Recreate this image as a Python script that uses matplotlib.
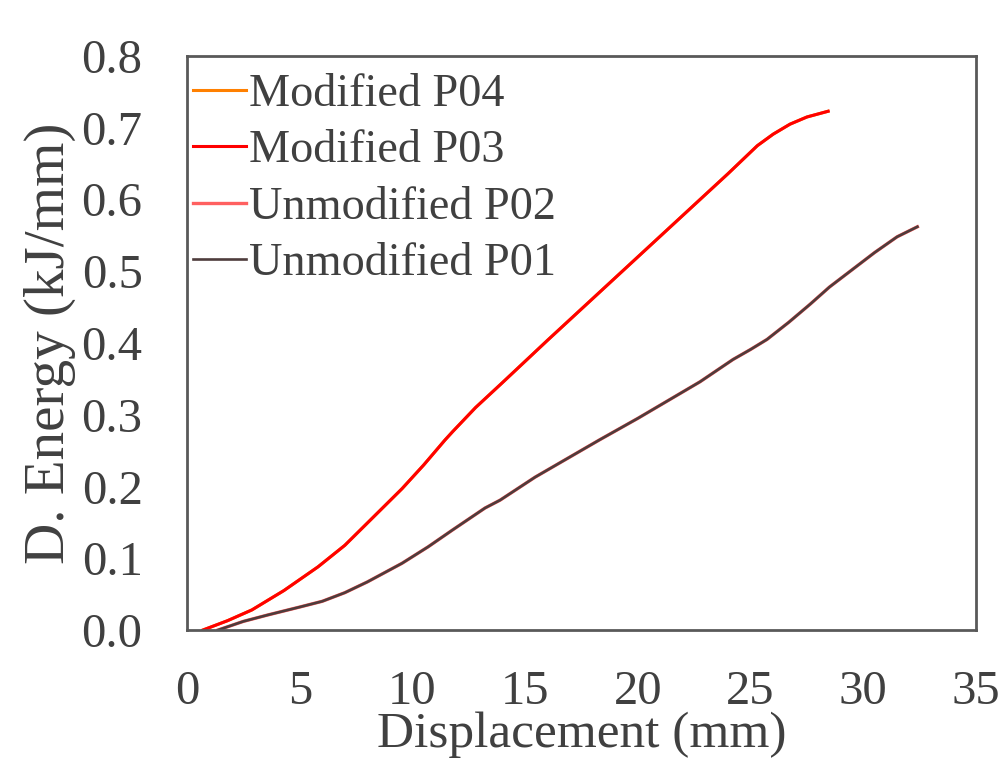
import matplotlib
matplotlib.use("Agg")
import matplotlib.pyplot as plt

plt.rcParams['font.family'] = ['Liberation Serif', 'DejaVu Serif']

# modified specimens (P03 / P04 overlap)
mod_x = [0.71, 1.8, 2.88, 4.3, 5.81, 7.0, 8.03, 9.54, 10.5, 11.45, 11.8, 12.8, 14.0, 16.0, 18.0,
         20.0, 22.0, 24.0, 25.3, 26.0, 26.75, 27.5, 28.44]
mod_y = [0.0, 0.013, 0.028, 0.055, 0.088, 0.118, 0.150, 0.197, 0.230, 0.265, 0.277, 0.310, 0.345, 0.404, 0.462,
         0.520, 0.578, 0.636, 0.675, 0.691, 0.705, 0.715, 0.723]

# unmodified specimens (P01 / P02 overlap)
unmod_x = [1.38, 2.5, 3.59, 5.0, 6.0, 7.0, 8.0, 9.54, 10.7, 11.76, 13.22, 13.89, 15.44, 18.3, 20.0,
           22.76, 24.22, 25.0, 25.73, 26.7, 27.64, 28.5, 29.5, 30.5, 31.5, 32.4]
unmod_y = [0.0, 0.012, 0.021, 0.032, 0.040, 0.052, 0.067, 0.093, 0.116, 0.139, 0.170, 0.181, 0.213, 0.265, 0.295,
           0.346, 0.377, 0.391, 0.405, 0.429, 0.454, 0.478, 0.502, 0.526, 0.548, 0.562]

xticks = [0, 5, 10, 15, 20, 25, 30, 35]
yticks = [0.0, 0.1, 0.2, 0.3, 0.4, 0.5, 0.6, 0.7, 0.8]

txt = "#404040"

fig = plt.figure(figsize=(10.04, 7.62), dpi=100)
ax = fig.add_axes([187 / 1004, 132 / 762, 789 / 1004, 574 / 762])

ax.plot(mod_x, mod_y, color="#FF8000", lw=2.2, label="Modified P04")
ax.plot(mod_x, mod_y, color="#FF0000", lw=2.2, label="Modified P03")
ax.plot(unmod_x, unmod_y, color="#FF6060", lw=2.4, label="Unmodified P02")
ax.plot(unmod_x, unmod_y, color="#4e3c3c", lw=1.9, label="Unmodified P01")

ax.set_xlim(0, 35)
ax.set_ylim(0, 0.8)
ax.set_xticks(xticks)
ax.set_yticks(yticks)
ax.set_yticklabels([f"{v:.1f}" for v in yticks])
ax.tick_params(axis="both", length=0, labelsize=35, colors=txt)
ax.tick_params(axis="x", pad=29)
ax.tick_params(axis="y", pad=32)
for s in ax.spines.values():
    s.set_color("#595959")
    s.set_linewidth(2)

ax.set_xlabel("Displacement (mm)", fontsize=37, color=txt, labelpad=-2)
ax.set_ylabel("D. Energy (kJ/mm)", fontsize=41, color=txt, labelpad=4)

leg = ax.legend(loc="upper left", bbox_to_anchor=(0.0, 0.979), frameon=False, fontsize=33.3,
                handlelength=1.15, handletextpad=0.08, labelspacing=0.3, borderpad=0.12,
                borderaxespad=0.0)
for t in leg.get_texts():
    t.set_color(txt)

fig.savefig("out.png", dpi=100)
